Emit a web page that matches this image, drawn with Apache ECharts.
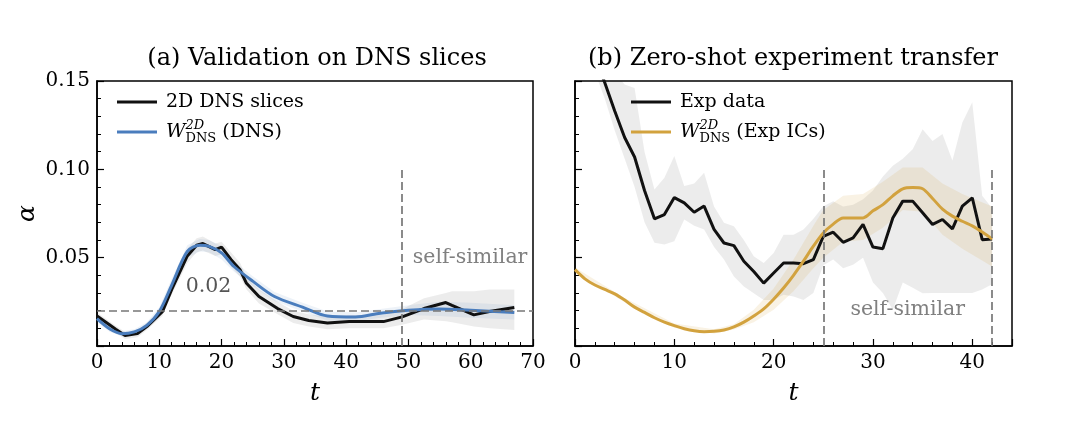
<!DOCTYPE html>
<html>
<head>
<meta charset="utf-8">
<script src="https://cdn.jsdelivr.net/npm/echarts@6/dist/echarts.min.js"></script>
<style>
  html, body { margin: 0; padding: 0; background: #fff; }
  #chartBox { width: 1090px; height: 432px; }
</style>
</head>
<body>
<div id="chartBox"></div>
<script>
// (a) 2D DNS slices
const dnsT  = [0, 2, 3, 4.5, 6.5, 8, 10.5, 12, 14.5, 16, 17, 19, 20, 21.5, 23, 24, 26, 29, 31.5, 34, 37, 40.5, 46, 49, 52.5, 56, 57, 60.5, 63, 67];
const dnsA  = [0.017, 0.012, 0.0095, 0.006, 0.007, 0.011, 0.0195, 0.032, 0.051, 0.057, 0.058, 0.0545, 0.056, 0.049, 0.043, 0.0355, 0.028, 0.0212, 0.0167, 0.0144, 0.013, 0.0138, 0.0138, 0.0165, 0.0212, 0.0246, 0.023, 0.0176, 0.0195, 0.0218];
const dnsLo = [0.015, 0.010, 0.0075, 0.004, 0.005, 0.009, 0.017, 0.029, 0.047, 0.053, 0.054, 0.051, 0.052, 0.045, 0.039, 0.032, 0.024, 0.018, 0.013, 0.011, 0.0095, 0.010, 0.010, 0.012, 0.015, 0.014, 0.0135, 0.011, 0.010, 0.009];
const dnsHi = [0.019, 0.014, 0.0115, 0.008, 0.009, 0.013, 0.022, 0.035, 0.055, 0.061, 0.062, 0.058, 0.059, 0.053, 0.047, 0.039, 0.032, 0.025, 0.020, 0.018, 0.0165, 0.0175, 0.0175, 0.021, 0.027, 0.030, 0.031, 0.031, 0.032, 0.032];

// (a) W_DNS^2D on DNS
const wT  = [0, 2, 4, 6, 8, 10, 12, 14.5, 16.5, 18, 20, 22, 25, 28.5, 33, 37, 41.5, 45.5, 50, 55, 60, 67];
const wA  = [0.0155, 0.0098, 0.007, 0.008, 0.0117, 0.0195, 0.0345, 0.0535, 0.057, 0.0564, 0.0527, 0.045, 0.0367, 0.028, 0.022, 0.017, 0.0164, 0.0186, 0.0202, 0.021, 0.0202, 0.019];
const wLo = [0.0135, 0.008, 0.0055, 0.0065, 0.010, 0.017, 0.031, 0.050, 0.0535, 0.053, 0.049, 0.042, 0.034, 0.0255, 0.0195, 0.0145, 0.014, 0.016, 0.0175, 0.017, 0.016, 0.015];
const wHi = [0.0175, 0.0116, 0.0085, 0.0095, 0.0134, 0.022, 0.038, 0.057, 0.0605, 0.060, 0.0565, 0.048, 0.0395, 0.0305, 0.0245, 0.0195, 0.019, 0.021, 0.023, 0.025, 0.0245, 0.023];

// (b) Exp data
const expT  = [2, 3, 4, 5, 6, 7, 8, 9, 10, 11, 12, 13, 14, 15, 16, 17, 18, 19, 20, 21, 22, 23, 24, 25, 26, 27, 28, 29, 30, 31, 32, 33, 34, 35, 36, 37, 38, 39, 40, 41, 42];
const expA  = [0.164, 0.149, 0.133, 0.118, 0.107, 0.088, 0.072, 0.0744, 0.084, 0.081, 0.0757, 0.0792, 0.066, 0.0583, 0.0568, 0.048, 0.0422, 0.0356, 0.0413, 0.047, 0.047, 0.0466, 0.0489, 0.0621, 0.0644, 0.0587, 0.0612, 0.0688, 0.056, 0.0551, 0.0725, 0.082, 0.082, 0.0754, 0.0688, 0.0716, 0.0663, 0.0792, 0.0839, 0.0602, 0.0606];
const expLo = [0.155, 0.140, 0.122, 0.106, 0.090, 0.070, 0.0585, 0.0574, 0.0593, 0.0716, 0.068, 0.066, 0.056, 0.049, 0.0394, 0.0337, 0.0299, 0.0261, 0.026, 0.029, 0.028, 0.026, 0.030, 0.0457, 0.0489, 0.044, 0.046, 0.050, 0.036, 0.030, 0.0205, 0.036, 0.033, 0.0299, 0.030, 0.030, 0.030, 0.030, 0.030, 0.032, 0.035];
const expHi = [0.175, 0.165, 0.155, 0.148, 0.146, 0.110, 0.0886, 0.0952, 0.1076, 0.0905, 0.092, 0.098, 0.079, 0.0697, 0.0678, 0.060, 0.0508, 0.047, 0.0527, 0.063, 0.063, 0.066, 0.072, 0.0791, 0.082, 0.079, 0.080, 0.083, 0.088, 0.096, 0.102, 0.106, 0.1114, 0.1227, 0.116, 0.120, 0.105, 0.1265, 0.138, 0.085, 0.078];

// (b) W_DNS^2D from Exp ICs
const wexpT = [0, 1, 2, 3, 4, 5, 6, 7, 8, 9, 10, 11, 12, 13, 14, 15, 16, 17, 18, 19, 20, 21, 22, 23, 24, 25, 26, 27, 28, 29, 30, 31, 32, 33, 34, 35, 36, 37, 38, 39, 40, 41, 42];
const wexpA = [0.0432, 0.038, 0.0345, 0.032, 0.0295, 0.026, 0.022, 0.019, 0.016, 0.0135, 0.0115, 0.0098, 0.0086, 0.0081, 0.0083, 0.0091, 0.0108, 0.0135, 0.017, 0.021, 0.0265, 0.0328, 0.040, 0.048, 0.0565, 0.064, 0.069, 0.0725, 0.0725, 0.0725, 0.0765, 0.080, 0.085, 0.089, 0.0897, 0.089, 0.0835, 0.0775, 0.0735, 0.0706, 0.068, 0.0645, 0.0606];
const wexpBandT = [0, 5, 10, 14, 16, 18, 20, 22, 24, 25, 27, 29, 31, 33, 35, 37, 39, 42];
const wexpLo = [0.042, 0.0248, 0.0103, 0.0071, 0.0093, 0.0135, 0.0205, 0.031, 0.044, 0.050, 0.059, 0.060, 0.067, 0.077, 0.076, 0.063, 0.055, 0.045];
const wexpHi = [0.0444, 0.0272, 0.0127, 0.0095, 0.0123, 0.0205, 0.0325, 0.049, 0.068, 0.077, 0.085, 0.086, 0.093, 0.101, 0.101, 0.092, 0.086, 0.079];

const xTicksA = [0, 10, 20, 30, 40, 50, 60, 70];
const xTicksB = [0, 10, 20, 30, 40];
const yTicks = [0.05, 0.10, 0.15];

const FONT = "DejaVu Serif";
const BLUE = "#4a7dbd";
const GOLD = "#d2a23e";

const pairs = (xs, ys) => xs.map((x, i) => [x, ys[i]]);

const band = (idx, xs, lo, hi, color) => ({
  type: "custom",
  xAxisIndex: idx,
  yAxisIndex: idx,
  silent: true,
  clip: true,
  z: 1,
  data: [[xs[0], lo[0]]],
  renderItem: function (params, api) {
    const pts = [];
    for (let i = 0; i < xs.length; i++) pts.push(api.coord([xs[i], hi[i]]));
    for (let i = xs.length - 1; i >= 0; i--) pts.push(api.coord([xs[i], lo[i]]));
    return { type: "polygon", shape: { points: pts }, style: { fill: color } };
  },
});

const dashStyle = { color: "#777", width: 1.7, type: [8, 4] };

const textMark = (coord, text, color) => ({
  coord: coord,
  symbolSize: 0,
  label: { show: true, position: "inside", formatter: text, color: color, fontSize: 20.5, fontFamily: FONT },
});

const xAxisBase = (idx, max, ticks) => ({
  type: "value",
  gridIndex: idx,
  min: 0,
  max: max,
  interval: 10,
  name: "t",
  nameLocation: "middle",
  nameGap: 35,
  nameTextStyle: { fontFamily: FONT, fontStyle: "italic", fontSize: 25, color: "#000" },
  axisLine: { show: true, onZero: false, lineStyle: { color: "#000", width: 1.5 } },
  axisTick: { show: true, inside: true, length: 7, lineStyle: { color: "#000", width: 1.2 } },
  minorTick: { show: true, splitNumber: 5, length: 4, lineStyle: { color: "#000", width: 1 } },
  splitLine: { show: false },
  axisLabel: {
    fontFamily: FONT, fontSize: 20, color: "#000", margin: 7,
    formatter: (v) => (ticks.indexOf(v) >= 0 ? String(v) : ""),
  },
});

const yAxisBase = (idx, showLabels) => ({
  type: "value",
  gridIndex: idx,
  min: 0,
  max: 0.15,
  interval: 0.05,
  name: showLabels ? "α" : "",
  nameLocation: "middle",
  nameRotate: 90,
  nameGap: 57,
  nameTextStyle: { fontFamily: FONT, fontStyle: "italic", fontSize: 25, color: "#000" },
  axisLine: { show: true, onZero: false, lineStyle: { color: "#000", width: 1.5 } },
  axisTick: { show: true, inside: true, length: 7, lineStyle: { color: "#000", width: 1.2 } },
  minorTick: { show: true, splitNumber: 5, length: 4, lineStyle: { color: "#000", width: 1 } },
  splitLine: { show: false },
  axisLabel: {
    show: showLabels, fontFamily: FONT, fontSize: 20, color: "#000", margin: 7,
    formatter: (v) => (yTicks.some((t) => Math.abs(t - v) < 1e-9) ? v.toFixed(2) : ""),
  },
});

const richW = {
  w: { fontFamily: FONT, fontStyle: "italic", fontSize: 19, lineHeight: 26, color: "#000" },
  sup: { fontFamily: FONT, fontStyle: "italic", fontSize: 13, lineHeight: 13, width: 0, verticalAlign: "top", color: "#000" },
  sub: { fontFamily: FONT, fontSize: 13, lineHeight: 13, verticalAlign: "bottom", color: "#000" },
  r: { fontFamily: FONT, fontSize: 19, lineHeight: 26, color: "#000" },
};

const legendBase = (left, names) => ({
  left: left,
  top: 84,
  orient: "vertical",
  itemWidth: 40,
  itemHeight: 14,
  itemGap: 4,
  icon: "path://M0,0 L40,0 L40,3 L0,3 Z",
  data: names,
  textStyle: { fontFamily: FONT, fontSize: 19, color: "#000", padding: [0, 0, 0, 4], lineHeight: 26, rich: richW },
  formatter: function (name) {
    if (name === "W DNS") return "{w|W}{sup|2D}{sub|DNS}{r| (DNS)}";
    if (name === "W Exp") return "{w|W}{sup|2D}{sub|DNS}{r| (Exp ICs)}";
    return name;
  },
});

const chartFun = () => {
  const myChart = echarts.init(document.getElementById("chartBox"), null, { renderer: "canvas" });
  const option = {
    animation: false,
    backgroundColor: "#fff",
    title: [
      { text: "(a) Validation on DNS slices", left: 317, top: 47, textAlign: "center", padding: 0,
        textStyle: { fontFamily: FONT, fontSize: 24, fontWeight: "normal", color: "#000" } },
      { text: "(b) Zero-shot experiment transfer", left: 793, top: 47, textAlign: "center", padding: 0,
        textStyle: { fontFamily: FONT, fontSize: 24, fontWeight: "normal", color: "#000" } },
    ],
    grid: [
      { left: 97, top: 81, width: 436, height: 265, show: true, borderColor: "#000", borderWidth: 1.5 },
      { left: 575, top: 81, width: 437, height: 265, show: true, borderColor: "#000", borderWidth: 1.5 },
    ],
    xAxis: [xAxisBase(0, 70, xTicksA), xAxisBase(1, 44, xTicksB)],
    yAxis: [yAxisBase(0, true), yAxisBase(1, false)],
    legend: [
      legendBase(112, ["2D DNS slices", "W DNS"]),
      legendBase(626, ["Exp data", "W Exp"]),
    ],
    series: [
      band(0, dnsT, dnsLo, dnsHi, "rgba(0,0,0,0.075)"),
      band(0, wT, wLo, wHi, "rgba(74,125,189,0.10)"),
      band(1, expT, expLo, expHi, "rgba(0,0,0,0.075)"),
      band(1, wexpBandT, wexpLo, wexpHi, "rgba(210,162,62,0.14)"),
      {
        name: "2D DNS slices",
        type: "line",
        xAxisIndex: 0,
        yAxisIndex: 0,
        symbol: "none",
        z: 3,
        lineStyle: { color: "#111", width: 3 },
        itemStyle: { color: "#111" },
        data: pairs(dnsT, dnsA),
        markLine: {
          silent: true,
          symbol: ["none", "none"],
          label: { show: false },
          lineStyle: dashStyle,
          data: [
            { yAxis: 0.02 },
            [{ coord: [49, 0] }, { coord: [49, 0.1] }],
          ],
        },
        markPoint: {
          silent: true,
          data: [
            textMark([17.9, 0.0337], "0.02", "#555"),
            textMark([59.9, 0.05], "self-similar", "#808080"),
          ],
        },
      },
      {
        name: "W DNS",
        type: "line",
        xAxisIndex: 0,
        yAxisIndex: 0,
        symbol: "none",
        smooth: 0.3,
        z: 4,
        lineStyle: { color: BLUE, width: 3 },
        itemStyle: { color: BLUE },
        data: pairs(wT, wA),
      },
      {
        name: "Exp data",
        type: "line",
        xAxisIndex: 1,
        yAxisIndex: 1,
        symbol: "none",
        z: 3,
        lineStyle: { color: "#111", width: 3 },
        itemStyle: { color: "#111" },
        data: pairs(expT, expA),
        markLine: {
          silent: true,
          symbol: ["none", "none"],
          label: { show: false },
          lineStyle: dashStyle,
          data: [
            [{ coord: [25, 0] }, { coord: [25, 0.1] }],
            [{ coord: [42, 0] }, { coord: [42, 0.1] }],
          ],
        },
        markPoint: {
          silent: true,
          data: [textMark([33.5, 0.0205], "self-similar", "#808080")],
        },
      },
      {
        name: "W Exp",
        type: "line",
        xAxisIndex: 1,
        yAxisIndex: 1,
        symbol: "none",
        smooth: 0.3,
        z: 4,
        lineStyle: { color: GOLD, width: 3 },
        itemStyle: { color: GOLD },
        data: pairs(wexpT, wexpA),
      },
    ],
  };
  myChart.setOption(option);
};

chartFun();
</script>
</body>
</html>
